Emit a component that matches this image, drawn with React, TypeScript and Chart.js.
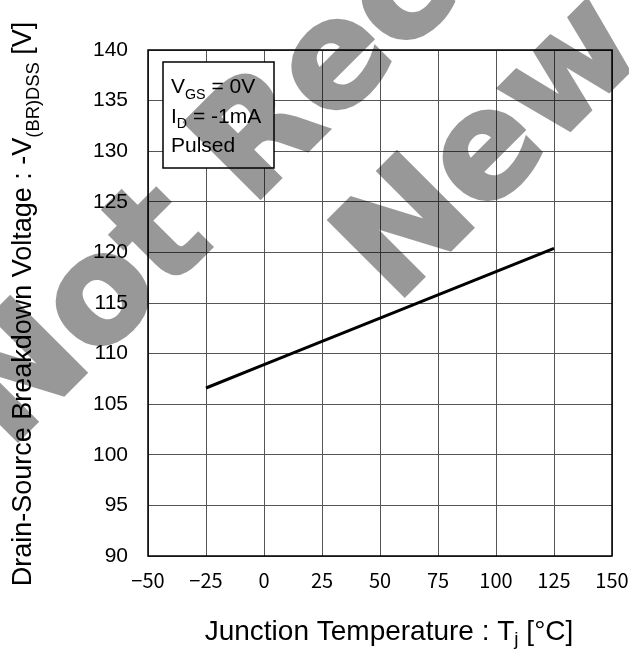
import React, { useEffect, useRef } from 'react';
import { Chart, registerables } from 'chart.js';

Chart.register(...registerables);

// Junction temperature (°C) and breakdown voltage -V(BR)DSS (V)
const TEMPERATURES = [-25, 0, 25, 50, 75, 100, 125];
const BREAKDOWN_V = [106.6, 108.9, 111.2, 113.5, 115.8, 118.1, 120.4];

// Axis tick values
const X_TICKS = [-50, -25, 0, 25, 50, 75, 100, 125, 150];
const Y_TICKS = [90, 95, 100, 105, 110, 115, 120, 125, 130, 135, 140];

type Seg = { t: string; sub?: boolean };

const Y_TITLE: Seg[] = [
  { t: 'Drain-Source Breakdown Voltage : -V' },
  { t: '(BR)DSS', sub: true },
  { t: ' [V]' },
];
const X_TITLE: Seg[] = [
  { t: 'Junction Temperature : T' },
  { t: 'j', sub: true },
  { t: ' [°C]' },
];
const CONDITIONS: Seg[][] = [
  [{ t: 'V' }, { t: 'GS', sub: true }, { t: ' = 0V' }],
  [{ t: 'I' }, { t: 'D', sub: true }, { t: ' = -1mA' }],
  [{ t: 'Pulsed' }],
];
const STAMP_LINES = ['Not Recommended for', 'New Design'];

const SANS = '"Liberation Sans", Arial, sans-serif';

function richWidth(ctx: CanvasRenderingContext2D, segs: Seg[], size: number) {
  let w = 0;
  for (const s of segs) {
    ctx.font = `${s.sub ? size * 0.68 : size}px ${SANS}`;
    w += ctx.measureText(s.t).width;
  }
  return w;
}

function drawRich(
  ctx: CanvasRenderingContext2D,
  segs: Seg[],
  x: number,
  y: number,
  size: number,
  align: 'left' | 'center',
  subDrop = 0.28
) {
  const total = richWidth(ctx, segs, size);
  let cx = align === 'center' ? x - total / 2 : x;
  ctx.textAlign = 'left';
  ctx.textBaseline = 'alphabetic';
  for (const s of segs) {
    const fs = s.sub ? size * 0.68 : size;
    ctx.font = `${fs}px ${SANS}`;
    ctx.fillText(s.t, cx, s.sub ? y + size * subDrop : y);
    cx += ctx.measureText(s.t).width;
  }
}

// Heavy diagonal stamp, painted opaque off-screen then laid over the sheet translucently
function drawStamp(ctx: CanvasRenderingContext2D, w: number, h: number) {
  const off = document.createElement('canvas');
  off.width = w;
  off.height = h;
  const o = off.getContext('2d');
  if (!o) return;
  o.rotate(-Math.PI / 4);
  o.font = 'bold 146px "DejaVu Sans", sans-serif';
  o.textAlign = 'left';
  o.textBaseline = 'alphabetic';
  o.fillStyle = '#000';
  o.strokeStyle = '#000';
  o.lineWidth = 4;
  o.lineJoin = 'miter';
  const rows: [string, number, number][] = [
    [STAMP_LINES[0], -312, 324],
    [STAMP_LINES[1], 64, 495],
  ];
  for (const [text, u, v] of rows) {
    o.fillText(text, u, v);
    o.strokeText(text, u, v);
  }
  ctx.save();
  ctx.setTransform(1, 0, 0, 1, 0, 0);
  ctx.globalAlpha = 0.4;
  ctx.drawImage(off, 0, 0);
  ctx.restore();
}

const decorations = {
  id: 'decorations',
  beforeDraw(chart: Chart) {
    const { ctx, width, height } = chart;
    ctx.save();
    ctx.fillStyle = '#fff';
    ctx.fillRect(0, 0, width, height);
    ctx.restore();
  },
  afterDraw(chart: Chart) {
    const { ctx, chartArea, width, height } = chart;
    const { left, top, right, bottom } = chartArea;
    ctx.save();

    // plot frame
    ctx.strokeStyle = '#000';
    ctx.lineWidth = 1.5;
    ctx.strokeRect(left, top, right - left, bottom - top);

    // conditions box
    const bx = left + 15;
    const by = top + 12;
    const bw = 111;
    const bh = 106;
    ctx.fillStyle = '#fff';
    ctx.fillRect(bx, by, bw, bh);
    ctx.lineWidth = 1.5;
    ctx.strokeRect(bx, by, bw, bh);
    ctx.fillStyle = '#000';
    CONDITIONS.forEach((line, i) => {
      drawRich(ctx, line, bx + 8, by + 31 + i * 29.5, 21, 'left');
    });

    // axis titles
    ctx.fillStyle = '#000';
    drawRich(ctx, X_TITLE, 389, 640, 28, 'center', 0.19);
    ctx.save();
    ctx.translate(31, 304);
    ctx.rotate(-Math.PI / 2);
    drawRich(ctx, Y_TITLE, 0, 0, 27, 'center');
    ctx.restore();

    ctx.restore();

    drawStamp(ctx, width, height);
  },
};

export default function App() {
  const ref = useRef<HTMLCanvasElement>(null);

  useEffect(() => {
    if (!ref.current) return;
    const points = TEMPERATURES.map((t, i) => ({ x: t, y: BREAKDOWN_V[i] }));
    const chart = new Chart(ref.current, {
      type: 'line',
      data: {
        datasets: [
          {
            data: points,
            borderColor: '#000',
            borderWidth: 3,
            pointRadius: 0,
            fill: false,
            tension: 0,
          },
        ],
      },
      options: {
        responsive: false,
        animation: false,
        devicePixelRatio: 1,
        layout: { padding: { left: 0, top: 50, right: 17, bottom: 0 } },
        plugins: { legend: { display: false }, tooltip: { enabled: false } },
        scales: {
          x: {
            type: 'linear',
            min: X_TICKS[0],
            max: X_TICKS[X_TICKS.length - 1],
            afterBuildTicks: (s: any) => {
              s.ticks = X_TICKS.map((v) => ({ value: v }));
            },
            afterFit: (s: any) => {
              s.height = 94;
              s.paddingLeft = 0;
              s.paddingRight = 0;
            },
            ticks: {
              padding: 12,
              color: '#000',
              font: { family: '"Noto Sans CJK JP", sans-serif', size: 20 },
              callback: (v: any) => String(v).replace('-', '\u2212'),
            },
            grid: { color: '#555', lineWidth: 1, drawTicks: false },
            border: { display: false },
          },
          y: {
            type: 'linear',
            min: Y_TICKS[0],
            max: Y_TICKS[Y_TICKS.length - 1],
            afterBuildTicks: (s: any) => {
              s.ticks = Y_TICKS.map((v) => ({ value: v }));
            },
            afterFit: (s: any) => {
              s.width = 148;
              s.paddingTop = 0;
              s.paddingBottom = 0;
            },
            ticks: {
              padding: 20,
              color: '#000',
              font: { family: SANS, size: 21 },
            },
            grid: { color: '#555', lineWidth: 1, drawTicks: false },
            border: { display: false },
          },
        },
      },
      plugins: [decorations],
    });
    return () => chart.destroy();
  }, []);

  return (
    <div style={{ position: 'fixed', left: 0, top: 0, width: 629, height: 650, background: '#fff' }}>
      <canvas ref={ref} width={629} height={650} />
    </div>
  );
}
